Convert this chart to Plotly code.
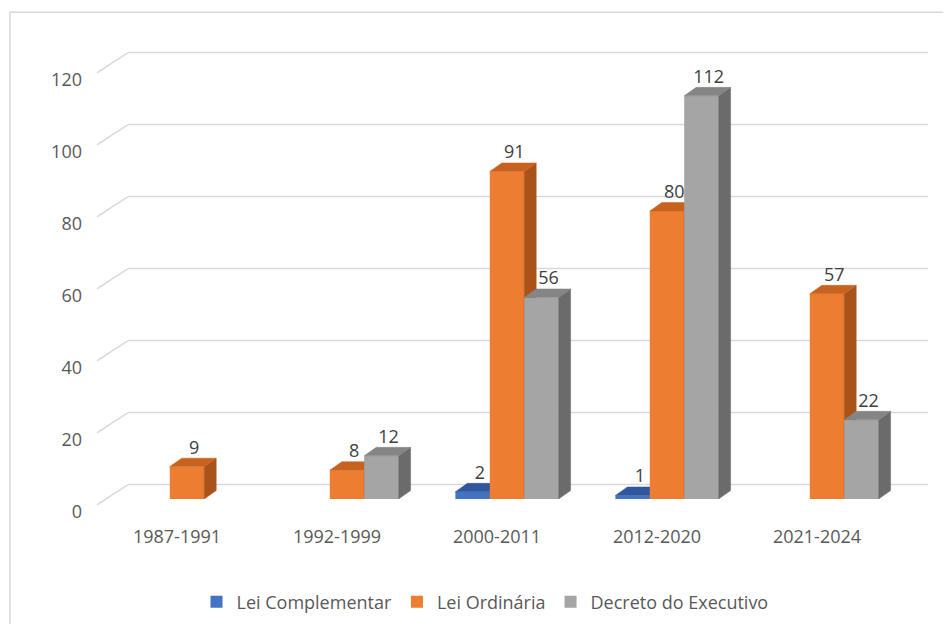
import plotly.graph_objects as go

# ---- data ----
categories = ["1987-1991", "1992-1999", "2000-2011", "2012-2020", "2021-2024"]
lei_complementar = [None, None, 2, 1, None]
lei_ordinaria = [9, 8, 91, 80, 57]
decreto_executivo = [None, 12, 56, 112, 22]
y_ticks = [0, 20, 40, 60, 80, 100, 120]

series_names = ["Lei Complementar", "Lei Ordinária", "Decreto do Executivo"]
series_values = [lei_complementar, lei_ordinaria, decreto_executivo]

# ---- style ----
front_colors = ["#4472C4", "#ED7D31", "#A5A5A5"]
top_colors = ["#30579C", "#C8621F", "#858585"]
side_colors = ["#284A85", "#A9531A", "#6B6B6B"]

W = 0.215      # bar width (category units)
DX = 0.075     # 3D depth, horizontal (category units)
DY = 2.35      # 3D depth, vertical (value units)
WALL = 4.0     # back wall offset (value units)
YMAX = 130

x = list(range(len(categories)))
fig = go.Figure()

lab_x, lab_y, lab_t = [], [], []
for k, (name, vals) in enumerate(zip(series_names, series_values)):
    off = (k - 1.5) * W
    fig.add_trace(go.Bar(
        x=x, y=vals, name=name, offset=off, width=W,
        marker=dict(color=front_colors[k], line=dict(width=0)),
        zorder=2 * k, hoverinfo="skip"))
    sx, sy, tx, ty = [], [], [], []
    for i, v in zip(x, vals):
        if v is None:
            continue
        x0 = i + off
        x1 = x0 + W
        sx += [x1, x1 + DX, x1 + DX, x1, x1, None]
        sy += [0, DY, v + DY, v, 0, None]
        tx += [x0, x0 + DX, x1 + DX, x1, x0, None]
        ty += [v, v + DY, v + DY, v, v, None]
        lab_x.append(x0 + W / 2 + DX * 0.6)
        lab_y.append(v + DY)
        lab_t.append(str(v))
    fig.add_trace(go.Scatter(
        x=sx, y=sy, mode="lines", fill="toself", fillcolor=side_colors[k],
        line=dict(width=0.5, color=side_colors[k]), showlegend=False,
        hoverinfo="skip", zorder=2 * k + 1))
    fig.add_trace(go.Scatter(
        x=tx, y=ty, mode="lines", fill="toself", fillcolor=top_colors[k],
        line=dict(width=0.5, color=top_colors[k]), showlegend=False,
        hoverinfo="skip", zorder=2 * k + 1))

fig.add_trace(go.Scatter(
    x=lab_x, y=lab_y, text=lab_t, mode="text", textposition="top center",
    textfont=dict(size=18, color="#404040", family="Open Sans"),
    showlegend=False, hoverinfo="skip", cliponaxis=False, zorder=20))

# ---- back wall gridlines and perspective ticks ----
L, PW, PH = 99, 800, 472
shapes = []
for v in y_ticks:
    yg = (v + WALL) / YMAX
    shapes.append(dict(type="line", xref="paper", yref="paper",
                       x0=21 / PW, x1=821 / PW, y0=yg, y1=yg,
                       line=dict(color="#D9D9D9", width=1.5), layer="below"))
    shapes.append(dict(type="line", xref="paper", yref="paper",
                       x0=-10 / PW, x1=21 / PW,
                       y0=(v - 1.65) / YMAX, y1=yg,
                       line=dict(color="#D9D9D9", width=1.5), layer="below"))
# outer chart border
shapes.append(dict(type="rect", xref="paper", yref="paper",
                   x0=-97 / PW, x1=1.3, y0=-0.6, y1=491 / PH,
                   line=dict(color="#D9D9D9", width=1.5), fillcolor="rgba(0,0,0,0)",
                   layer="below"))

fig.update_layout(
    width=951, height=624,
    margin=dict(l=L, r=951 - L - PW, t=23, b=624 - 23 - PH),
    plot_bgcolor="white", paper_bgcolor="white",
    barmode="overlay",
    font=dict(family="Open Sans", size=18, color="#595959"),
    shapes=shapes,
    showlegend=True,
    legend=dict(orientation="h", x=0.4725, xanchor="center", y=-0.22,
                yanchor="middle", font=dict(size=18, color="#595959"),
                traceorder="normal", itemwidth=30),
    xaxis=dict(range=[-0.5, 4.5], tickvals=x, ticktext=categories,
               showgrid=False, zeroline=False, showline=False, ticks="",
               ticklabelshift=-10, ticklabelstandoff=25,
               tickfont=dict(size=18, color="#595959")),
    yaxis=dict(range=[0, YMAX], tickvals=y_ticks, showgrid=False,
               zeroline=False, showline=False, ticks="",
               ticklabelshift=13, ticklabelstandoff=24,
               tickfont=dict(size=18, color="#595959")),
)

fig.write_html("out.html")
